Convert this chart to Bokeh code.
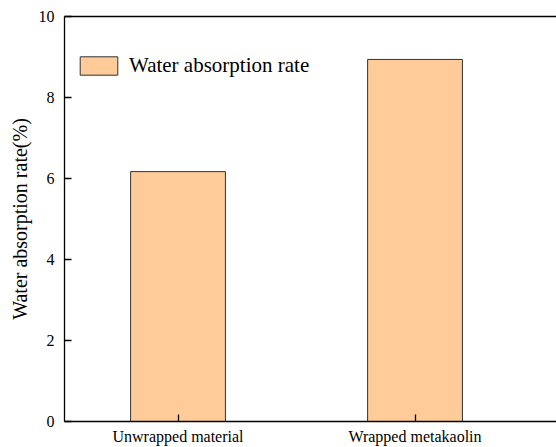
from bokeh.plotting import figure
from bokeh.models import FixedTicker, LinearAxis, Range1d, ColumnDataSource
from bokeh.embed import file_html
from bokeh.resources import INLINE

categories = ["Unwrapped material", "Wrapped metakaolin"]
positions = [1, 2]
water_absorption = [6.17, 8.94]
y_ticks = [0, 2, 4, 6, 8, 10]

FONT = "Liberation Serif"

src = ColumnDataSource(dict(x=positions, top=water_absorption))

p = figure(width=556, height=447, output_backend="svg", toolbar_location=None,
           x_range=Range1d(0.521, 2.597), y_range=Range1d(0, 10),
           min_border_left=64, min_border_right=0, min_border_top=16, min_border_bottom=24)
p.outline_line_color = None
p.grid.grid_line_color = None
p.background_fill_color = "white"
p.border_fill_color = "white"

p.vbar(x="x", top="top", width=0.4, source=src, fill_color="#FFCC99",
       line_color="#333333", line_width=1, legend_label="Water absorption rate")

xa = p.xaxis[0]
xa.ticker = FixedTicker(ticks=positions)
xa.major_label_overrides = {pos: c for pos, c in zip(positions, categories)}
ya = p.yaxis[0]
ya.ticker = FixedTicker(ticks=y_ticks)
ya.axis_label = "Water absorption rate(%)"

for ax in (xa, ya):
    ax.axis_line_color = "black"
    ax.axis_line_width = 1.3
    ax.major_tick_line_color = "black"
    ax.major_tick_line_width = 1.3
    ax.major_tick_in = 7
    ax.major_tick_out = 0
    ax.minor_tick_line_color = None
    ax.major_label_text_font = FONT
    ax.major_label_text_font_size = "16px"
    ax.major_label_text_color = "black"
    ax.axis_label_text_font = FONT
    ax.axis_label_text_font_size = "20px"
    ax.axis_label_text_font_style = "normal"
    ax.axis_label_text_color = "black"
xa.major_label_standoff = 6
ya.major_label_standoff = 10
ya.axis_label_standoff = 5

top_ax = LinearAxis(axis_line_color="black", axis_line_width=1.3,
                    major_tick_line_color=None, minor_tick_line_color=None,
                    major_label_text_font_size="0px", ticker=FixedTicker(ticks=[]))
p.add_layout(top_ax, "above")

lg = p.legend[0]
lg.location = (11, 343)
lg.border_line_color = None
lg.background_fill_alpha = 0
lg.padding = 0
lg.margin = 0
lg.glyph_width = 47
lg.glyph_height = 23
lg.label_height = 23
lg.label_standoff = 7
lg.label_text_font = FONT
lg.label_text_font_size = "21px"
lg.label_text_color = "black"

open("out.html", "w").write(file_html(p, INLINE))
